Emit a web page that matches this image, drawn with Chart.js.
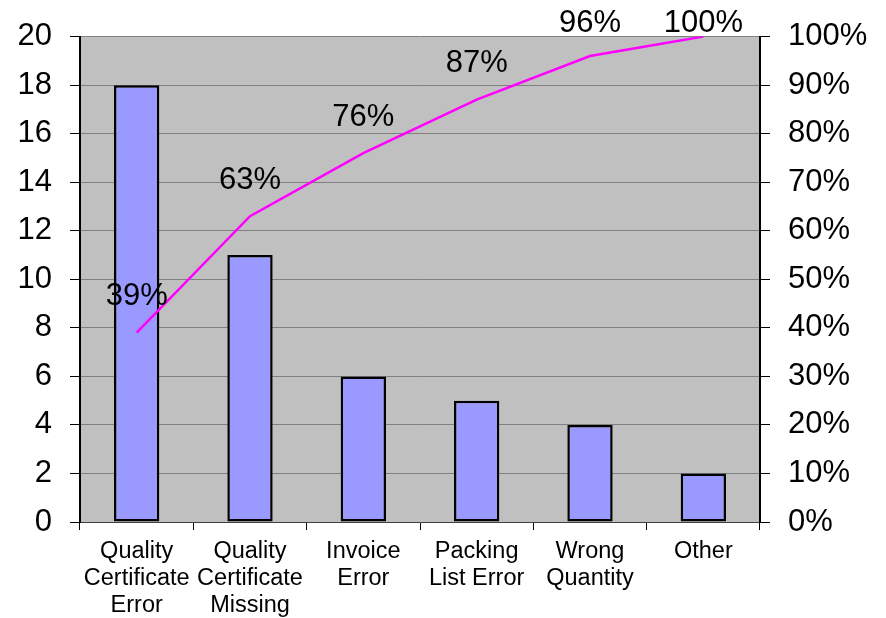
<!DOCTYPE html>
<html>
<head>
<meta charset="utf-8">
<script src="https://cdn.jsdelivr.net/npm/chart.js@4.4.1/dist/chart.umd.min.js"></script>
<style>
  html, body { margin: 0; padding: 0; background: #fff; }
  #wrap { width: 886px; height: 618px; position: relative; }
</style>
</head>
<body>
<div id="wrap"><canvas id="pareto"></canvas></div>
<script>
const categories = [
    ['Quality', 'Certificate', 'Error'],
    ['Quality', 'Certificate', 'Missing'],
    ['Invoice', 'Error'],
    ['Packing', 'List Error'],
    ['Wrong', 'Quantity'],
    ['Other'],
];
const counts     = [18, 11, 6, 5, 4, 2];
const cumulative = [39, 63, 76, 87, 96, 100];

const FONT = "'Liberation Sans', Arial, sans-serif";

// grey plot background like the old Excel chart
const plotBg = {
    id: 'plotBg',
    beforeDraw(chart) {
        const { ctx, chartArea: a } = chart;
        ctx.save();
        ctx.fillStyle = '#c0c0c0';
        ctx.fillRect(a.left, a.top, a.right - a.left, a.bottom - a.top);
        ctx.restore();
    },
};

// percentage labels above each point of the cumulative line
const pctLabels = {
    id: 'pctLabels',
    afterDatasetsDraw(chart) {
        const meta = chart.getDatasetMeta(1);
        const ctx = chart.ctx;
        ctx.save();
        ctx.font = '31px ' + FONT;
        ctx.fillStyle = '#000';
        ctx.textAlign = 'center';
        ctx.textBaseline = 'middle';
        meta.data.forEach((pt, i) => {
            const y = Math.max(pt.y - 36, 23);
            ctx.fillText(cumulative[i] + '%', pt.x, y);
        });
        ctx.restore();
    },
};

new Chart(document.getElementById('pareto'), {
    type: 'bar',
    data: {
        labels: categories,
        datasets: [
            {
                type: 'bar',
                label: 'Count',
                data: counts,
                yAxisID: 'y',
                backgroundColor: '#9999ff',
                borderColor: '#000',
                borderWidth: 2.5,
                borderSkipped: false,
                barPercentage: 0.4,
                categoryPercentage: 1.0,
                order: 1,
            },
            {
                type: 'line',
                label: 'Cumulative %',
                data: cumulative,
                yAxisID: 'pct',
                borderColor: '#ff00ff',
                borderWidth: 2.5,
                pointRadius: 0,
                tension: 0,
                fill: false,
                order: 0,
            },
        ],
    },
    plugins: [plotBg, pctLabels],
    options: {
        responsive: true,
        maintainAspectRatio: false,
        animation: false,
        layout: { padding: { top: 36, left: 0, right: 0, bottom: 0 } },
        plugins: {
            legend: { display: false },
            tooltip: { enabled: false },
        },
        scales: {
            x: {
                offset: true,
                grid: { offset: true, drawOnChartArea: false, tickLength: 8, tickColor: '#000' },
                border: { display: true, color: '#404040', width: 1 },
                ticks: {
                    font: { family: FONT, size: 23.5, lineHeight: '27px' },
                    color: '#000',
                    padding: 8,
                    maxRotation: 0,
                    autoSkip: false,
                },
                afterFit: s => { s.height = 96; },
            },
            y: {
                position: 'left',
                min: 0,
                max: 20,
                grid: { color: '#808080', tickLength: 10, tickColor: '#000' },
                border: { display: true, color: '#000', width: 2 },
                ticks: {
                    stepSize: 2,
                    font: { family: FONT, size: 31 },
                    color: '#000',
                    padding: 18,
                },
                afterFit: s => { s.width = 80; },
            },
            pct: {
                position: 'right',
                min: 0,
                max: 100,
                grid: { drawOnChartArea: false, tickLength: 10, tickColor: '#000' },
                border: { display: true, color: '#000', width: 2 },
                ticks: {
                    stepSize: 10,
                    font: { family: FONT, size: 31 },
                    color: '#000',
                    padding: 18,
                    callback: v => v + '%',
                },
                afterFit: s => { s.width = 126; },
            },
        },
    },
});
</script>
</body>
</html>
